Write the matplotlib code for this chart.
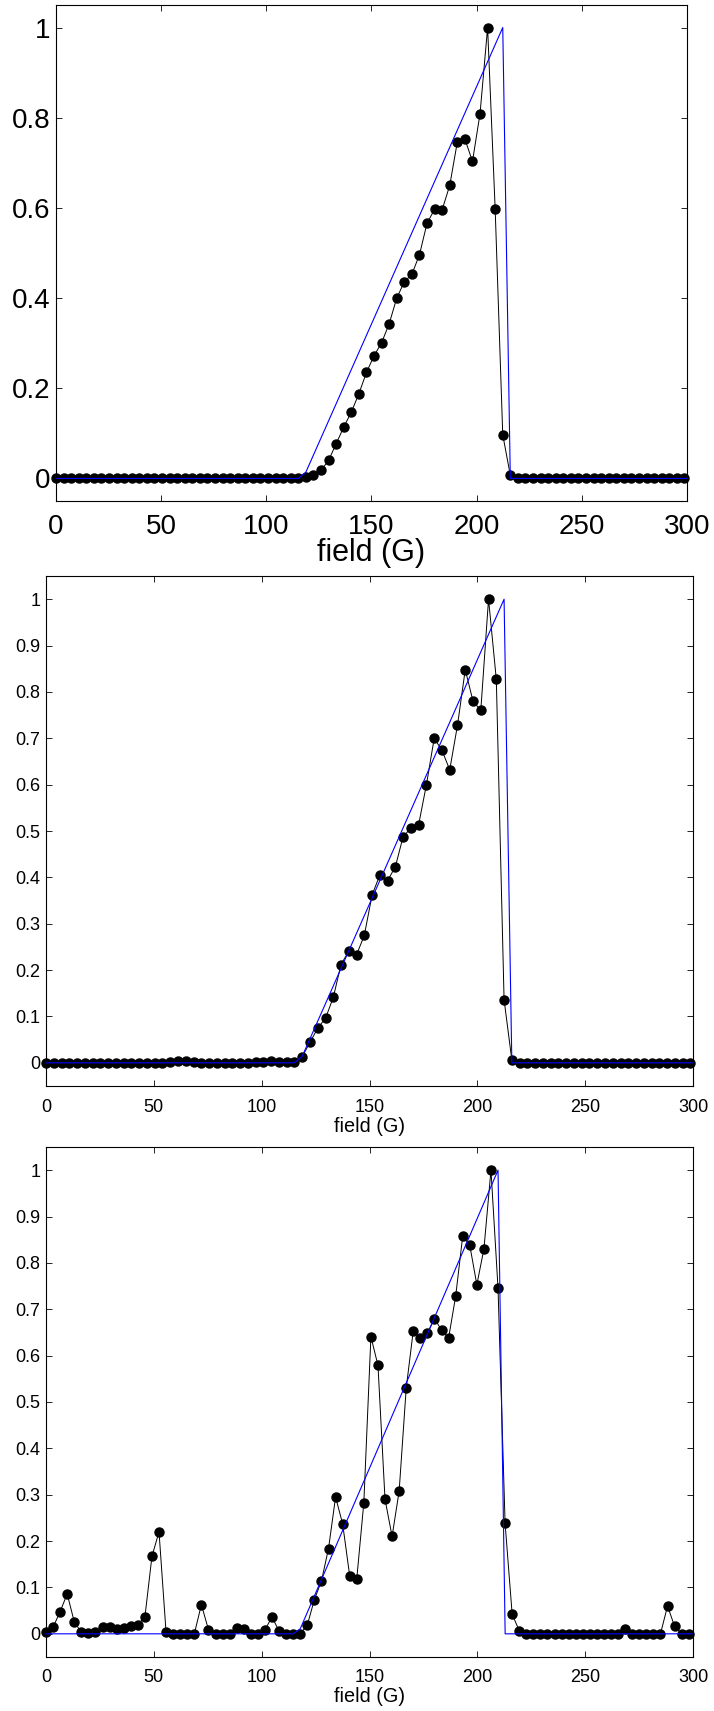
import numpy as np
import matplotlib
matplotlib.use('Agg')
import matplotlib.pyplot as plt

plt.rcParams['font.family'] = ['Liberation Sans', 'DejaVu Sans']

###############################################################################################
# measured signal (normalised), read off the three panels

# panels 1 and 2 are sampled every 3.6 G, panel 3 every 3.275 G
step_a = 3.6
step_b = 3.275

sig_1 = [0.0] * 33 + [
    0.004, 0.007, 0.018, 0.040, 0.077, 0.114, 0.147, 0.188, 0.235, 0.272,
    0.301, 0.343, 0.400, 0.436, 0.453, 0.496, 0.566, 0.597, 0.596, 0.650,
    0.746, 0.753, 0.703, 0.809, 1.000, 0.597, 0.097, 0.007,
] + [0.0] * 23

sig_2 = [0.0] * 16 + [0.002, 0.003, 0.003, 0.002] + [0.0] * 7 + \
    [0.002, 0.002, 0.003, 0.002, 0.002, 0.002] + [
    0.0135, 0.044, 0.075, 0.096, 0.141, 0.212, 0.241, 0.233, 0.275, 0.362,
    0.405, 0.393, 0.423, 0.488, 0.506, 0.514, 0.600, 0.700, 0.674, 0.632,
    0.728, 0.848, 0.780, 0.760, 1.000, 0.827, 0.136, 0.006,
] + [0.0] * 23

sig_3 = [
    0.005, 0.014, 0.048, 0.086, 0.026, 0.003, 0.001, 0.004, 0.015, 0.015,
    0.010, 0.012, 0.017, 0.020, 0.036, 0.167, 0.220, 0.003, 0.0, 0.0,
    0.0, 0.0, 0.063, 0.009, 0.0, 0.0, 0.0, 0.013, 0.010, 0.0,
    0.0, 0.009, 0.036, 0.006, 0.0, 0.0, 0.0, 0.019, 0.074, 0.114,
    0.184, 0.295, 0.237, 0.125, 0.119, 0.283, 0.641, 0.579, 0.290, 0.210,
    0.308, 0.530, 0.654, 0.638, 0.648, 0.680, 0.655, 0.638, 0.728, 0.858,
    0.838, 0.753, 0.830, 1.000, 0.745, 0.238, 0.042, 0.007,
] + [0.0] * 14 + [0.010] + [0.0] * 5 + [0.060, 0.016, 0.0, 0.0]

# model curve (blue), vertices
model_x_a = [0, 115.2, 118.8, 212.4, 216.0, 300]
model_y_a = [0, 0, 0.014, 1.0, 0, 0]
model_x_b = [0, 114.6, 117.9, 209.6, 212.9, 300]
model_y_b = [0, 0, 0.011, 1.0, 0, 0]

xticks = [0, 50, 100, 150, 200, 250, 300]
yticks_coarse = [0, 0.2, 0.4, 0.6, 0.8, 1.0]
ylabels_coarse = ['0', '0.2', '0.4', '0.6', '0.8', '1']
yticks_fine = [0, 0.1, 0.2, 0.3, 0.4, 0.5, 0.6, 0.7, 0.8, 0.9, 1.0]
ylabels_fine = ['0', '0.1', '0.2', '0.3', '0.4', '0.5', '0.6', '0.7', '0.8', '0.9', '1']

###############################################################################################

W, H = 714, 1711
fig = plt.figure(figsize=(W / 100, H / 100), dpi=100)


def axes_px(left, top, right, bottom):
    return fig.add_axes([left / W, 1 - bottom / H, (right - left) / W, (bottom - top) / H])


def panel(ax, step, sig, mx, my, yt, yl, fs, label_off):
    x = np.arange(len(sig)) * step
    ax.plot(x, sig, color='k', lw=0.7, marker='o', ms=6.5, mfc='k', mec='k', clip_on=False, zorder=3)
    ax.plot(mx, my, color='#0000ff', lw=0.8, zorder=4)
    ax.set_xlim(0, 300)
    ax.set_ylim(-0.05, 1.05)
    ax.set_xticks(xticks)
    ax.set_xticklabels([str(t) for t in xticks])
    ax.set_yticks(yt)
    ax.set_yticklabels(yl)
    ax.tick_params(direction='in', top=True, right=True, length=4.5, width=0.6,
                   labelsize=fs, colors='k')
    ax.tick_params(axis='x', pad=9)
    ax.tick_params(axis='y', pad=4)
    for s in ax.spines.values():
        s.set_linewidth(0.8)
        s.set_color('k')
    ax.set_xlabel('field (G)', fontsize=fs * 1.1)
    ax.xaxis.label.set_va('center')
    h = ax.get_position().height * H
    ax.xaxis.set_label_coords(0.5, -label_off / h)


ax1 = axes_px(56, 5, 687, 501)
panel(ax1, step_a, sig_1, model_x_a, model_y_a, yticks_coarse, ylabels_coarse, 20, 52)

ax2 = axes_px(46, 576, 693, 1086)
panel(ax2, step_a, sig_2, model_x_a, model_y_a, yticks_fine, ylabels_fine, 13, 40)

ax3 = axes_px(46, 1147, 693, 1657)
panel(ax3, step_b, sig_3, model_x_b, model_y_b, yticks_fine, ylabels_fine, 13, 40)

fig.savefig('out.png', dpi=100)
